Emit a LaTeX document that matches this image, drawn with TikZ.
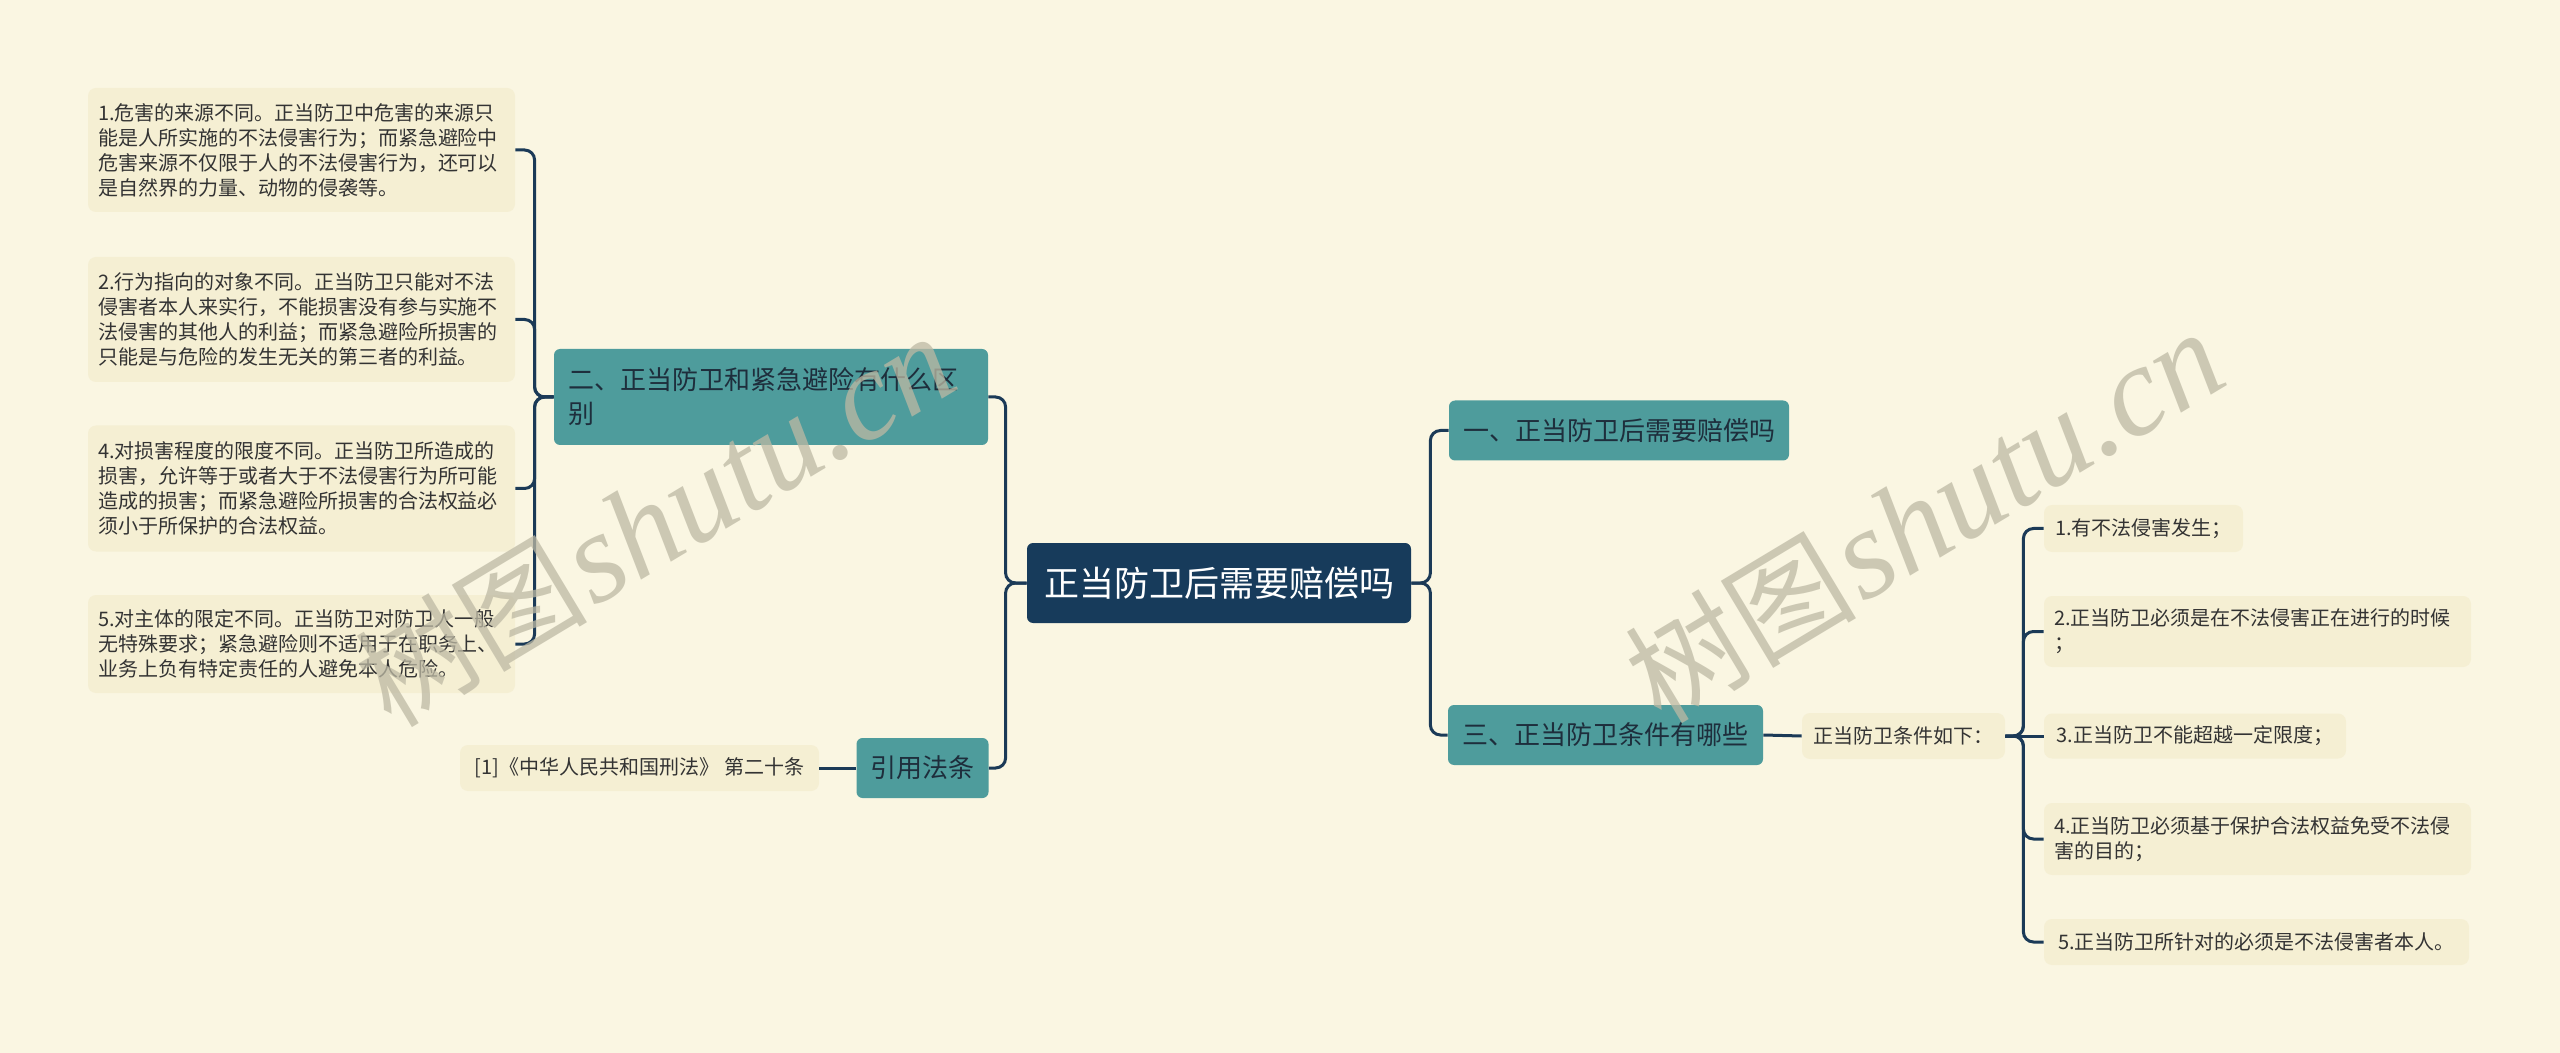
\documentclass[tikz,border=0pt]{standalone}
\usepackage{fontspec}
\setmainfont{Noto Sans CJK SC}
\newfontfamily\wmcjk{Noto Sans CJK SC}
\newfontfamily\wmlat{Liberation Serif}
\definecolor{bgc}{HTML}{FAF6E2}
\definecolor{leafc}{HTML}{F5EFD3}
\definecolor{leaftext}{HTML}{333333}
\definecolor{tealc}{HTML}{4E9C9C}
\definecolor{tealtext}{HTML}{1E2E3C}
\definecolor{rootc}{HTML}{173B5B}
\definecolor{linec}{HTML}{1B3A57}
\definecolor{wmc}{HTML}{BDB9A4}
\begin{document}
\begin{tikzpicture}[x=0.5pt,y=-0.5pt,
  conn/.style={draw=linec, line width=1.5pt, rounded corners=5pt},
  leaf/.style={fill=leafc, rounded corners=4pt, text=leaftext,
    font=\fontsize{10pt}{12.5pt}\selectfont, inner xsep=5pt, inner ysep=0pt, align=left},
  leafwide/.style={leaf, minimum width=213.5pt, text width=203.5pt},
  teal/.style={fill=tealc, rounded corners=3pt, text=tealtext,
    font=\fontsize{13pt}{17pt}\selectfont, inner xsep=7pt, inner ysep=0pt, align=left},
  rootbox/.style={fill=rootc, rounded corners=3pt, text=white,
    font=\fontsize{17.5pt}{20pt}\selectfont, inner xsep=8pt, inner ysep=0pt,
    minimum width=192pt, minimum height=40pt},
  wm/.style={text=wmc, opacity=0.75, rotate=31, inner sep=0pt}
]
\useasboundingbox (0,0) rectangle (2560,1053);
\fill[bgc] (0,0) rectangle (2560,1053);

% root
\node[rootbox] (root) at (1219,583) {正当防卫后需要赔偿吗};

% left branch
\node[teal, minimum width=217pt, text width=203pt, minimum height=48pt] (er) at (771,397)
  {二、正当防卫和紧急避险有什么区\\别};
\node[teal, minimum width=65.5pt, minimum height=30pt, align=center] (yin) at (922.5,768) {引用法条};
\node[leaf, minimum width=179.5pt, minimum height=23pt, align=center] (ref) at (639.5,768)
  {[1]《中华人民共和国刑法》 第二十条};

\node[leafwide, minimum height=62pt] (L1) at (301.5,150)
  {1.危害的来源不同。正当防卫中危害的来源只\\能是人所实施的不法侵害行为；而紧急避险中\\危害来源不仅限于人的不法侵害行为，还可以\\是自然界的力量、动物的侵袭等。};
\node[leafwide, minimum height=62.5pt] (L2) at (301.5,319.5)
  {2.行为指向的对象不同。正当防卫只能对不法\\侵害者本人来实行，不能损害没有参与实施不\\法侵害的其他人的利益；而紧急避险所损害的\\只能是与危险的发生无关的第三者的利益。};
\node[leafwide, minimum height=63pt] (L4) at (301.5,488.5)
  {4.对损害程度的限度不同。正当防卫所造成的\\损害，允许等于或者大于不法侵害行为所可能\\造成的损害；而紧急避险所损害的合法权益必\\须小于所保护的合法权益。};
\node[leafwide, minimum height=49pt] (L5) at (301.5,644)
  {5.对主体的限定不同。正当防卫对防卫人一般\\无特殊要求；紧急避险则不适用于在职务上、\\业务上负有特定责任的人避免本人危险。};

% right branch
\node[teal, minimum width=170pt, minimum height=30pt, align=center] (yi) at (1619,430.5) {一、正当防卫后需要赔偿吗};
\node[teal, minimum width=157.5pt, minimum height=30pt, align=center] (san) at (1605.5,735) {三、正当防卫条件有哪些};
\node[leaf, minimum width=101.5pt, minimum height=23pt, align=center] (cond) at (1903.5,736) {正当防卫条件如下：};

\node[leaf, minimum width=99.5pt, minimum height=23.5pt, align=center] (R1) at (2143.5,528.5) {1.有不法侵害发生；};
\node[leafwide, minimum height=35.5pt] (R2) at (2257.5,631.5)
  {2.正当防卫必须是在不法侵害正在进行的时候\\；};
\node[leaf, minimum width=151pt, minimum height=22.5pt, align=center] (R3) at (2195,736) {3.正当防卫不能超越一定限度；};
\node[leafwide, minimum height=36pt] (R4) at (2257.5,839)
  {4.正当防卫必须基于保护合法权益免受不法侵\\害的目的；};
\node[leaf, minimum width=212.5pt, minimum height=23pt, align=center] (R5) at (2256.5,942) {5.正当防卫所针对的必须是不法侵害者本人。};

% connectors
\draw[conn] (root.west) -- ++(-21,0) |- (er.east);
\draw[conn] (root.west) -- ++(-21,0) |- (yin.east);
\draw[conn] (yin.west) -- (ref.east);
\foreach \n in {L1,L2,L4,L5}{
  \draw[conn] (er.west) -- ++(-19,0) |- (\n.east);
}
\draw[conn] (root.east) -- ++(19,0) |- (yi.west);
\draw[conn] (root.east) -- ++(19,0) |- (san.west);
\draw[conn] (san.east) -- (cond.west);
\foreach \n in {R1,R2,R4,R5}{
  \draw[conn] (cond.east) -- ++(18,0) |- (\n.west);
}
\draw[conn] (cond.east) -- (R3.west);

% watermarks
\node[wm] (wm1) at (655,520) {{\wmcjk\fontsize{58pt}{60pt}\selectfont 树图} {\wmlat\itshape\fontsize{64pt}{66pt}\selectfont shutu.cn}};
\node[wm] (wm2) at (1924,516) {{\wmcjk\fontsize{58pt}{60pt}\selectfont 树图} {\wmlat\itshape\fontsize{64pt}{66pt}\selectfont shutu.cn}};
\end{tikzpicture}
\end{document}
